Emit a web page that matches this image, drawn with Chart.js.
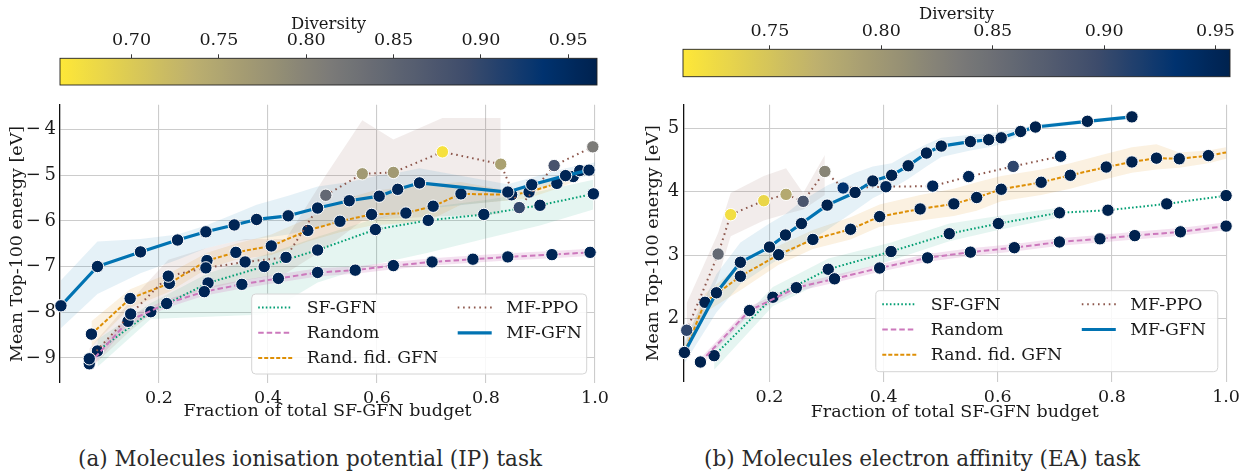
<!DOCTYPE html>
<html><head><meta charset="utf-8">
<script src="https://cdn.jsdelivr.net/npm/chart.js@4.4.1/dist/chart.umd.min.js"></script>
<style>
html,body{margin:0;padding:0;background:#fff;}
#wrap{position:relative;width:1245px;height:471px;overflow:hidden;background:#fff;}
canvas{position:absolute;}
.cap{position:absolute;top:447px;font-family:"DejaVu Serif",serif;font-size:21.5px;color:#2a2a2a;white-space:nowrap;transform:translateX(-50%);line-height:24px;}
</style></head><body>
<div id="wrap">
<canvas id="cbA" width="620" height="90" style="left:0;top:0"></canvas>
<canvas id="plA" width="620" height="350" style="left:0;top:90px"></canvas>
<canvas id="cbB" width="625" height="90" style="left:620px;top:0"></canvas>
<canvas id="plB" width="625" height="350" style="left:620px;top:90px"></canvas>
<div class="cap" style="left:310px">(a) Molecules ionisation potential (IP) task</div>
<div class="cap" style="left:922px">(b) Molecules electron affinity (EA) task</div>
</div>
<script>
// ---------------- DATA ----------------
const methods = ['SF-GFN', 'Random', 'Rand. fid. GFN', 'MF-PPO', 'MF-GFN'];
const xTickLabels = [0.2, 0.4, 0.6, 0.8, 1.0];
const ipYTicks = [-9, -8, -7, -6, -5, -4];
const eaYTicks = [2, 3, 4, 5];
const ipDivTicks = [0.70, 0.75, 0.80, 0.85, 0.90, 0.95];
const eaDivTicks = [0.75, 0.80, 0.85, 0.90, 0.95];
const ipDivRange = [0.659, 0.9665];
const eaDivRange = [0.711, 0.9565];
const navyDiv = 0.96;

// (a) IP task
const ipSfX  = [0.087, 0.185, 0.290, 0.393, 0.491, 0.597, 0.694, 0.796, 0.899, 0.997];
const ipSfY  = [-8.85, -7.99, -7.36, -7.00, -6.64, -6.19, -5.99, -5.86, -5.66, -5.41];
const ipSfLo = [-9.20, -8.15, -8.10, -8.05, -7.35, -6.95, -6.70, -6.40, -6.10, -5.75];
const ipSfHi = [-8.60, -7.80, -7.15, -6.75, -6.35, -5.95, -5.70, -5.55, -5.35, -5.10];

const ipRndX  = [0.072, 0.143, 0.214, 0.283, 0.352, 0.419, 0.491, 0.560, 0.630, 0.701, 0.776, 0.840, 0.921, 0.991];
const ipRndY  = [-9.13, -8.20, -7.81, -7.55, -7.39, -7.26, -7.13, -7.08, -6.98, -6.90, -6.84, -6.79, -6.74, -6.69];
const ipRndLo = [-9.25, -8.30, -7.90, -7.64, -7.48, -7.35, -7.22, -7.16, -7.06, -6.98, -6.92, -6.87, -6.82, -6.77];
const ipRndHi = [-9.00, -8.10, -7.72, -7.46, -7.30, -7.17, -7.04, -7.00, -6.90, -6.82, -6.76, -6.71, -6.66, -6.61];

const ipRfX  = [0.076, 0.147, 0.219, 0.288, 0.341, 0.406, 0.473, 0.532, 0.590, 0.653, 0.703, 0.754, 0.847, 0.879, 0.930, 0.960, 0.972];
const ipRfY  = [-8.48, -7.70, -7.37, -6.87, -6.69, -6.55, -6.21, -6.01, -5.86, -5.83, -5.68, -5.41, -5.43, -5.37, -5.18, -5.03, -4.90];
const ipRfLo = [-8.75, -7.90, -7.55, -7.05, -6.85, -6.75, -6.45, -6.25, -6.10, -6.05, -5.95, -5.65, -5.55, -5.50, -5.30, -5.15, -5.00];
const ipRfHi = [-8.20, -7.50, -7.15, -6.70, -6.50, -6.30, -5.95, -5.55, -5.35, -5.25, -5.20, -5.15, -5.35, -5.25, -5.05, -4.90, -4.80];

const ipPpoX   = [0.072, 0.148, 0.217, 0.286, 0.358, 0.433, 0.506, 0.573, 0.630, 0.720, 0.827, 0.861, 0.925, 0.996];
const ipPpoY   = [-9.02, -8.04, -7.21, -7.03, -6.90, -6.80, -5.44, -4.97, -4.94, -4.49, -4.76, -5.71, -4.79, -4.38];
const ipPpoDiv = [0.96, 0.96, 0.96, 0.96, 0.96, 0.96, 0.845, 0.767, 0.767, 0.668, 0.757, 0.899, 0.880, 0.813];
const ipPpoLo  = [-9.25, -8.40, -7.75, -7.50, -7.30, -7.15, -6.60, -6.00, -5.95, -5.90, -5.85];
const ipPpoHi  = [-8.80, -7.75, -6.85, -6.60, -6.40, -6.40, -5.00, -3.80, -4.22, -3.75, -3.75];

const ipMfX  = [0.020, 0.087, 0.166, 0.234, 0.286, 0.338, 0.379, 0.437, 0.491, 0.549, 0.604, 0.638, 0.678, 0.840, 0.884, 0.946, 0.989, 1.0];
const ipMfY  = [-7.86, -7.00, -6.68, -6.42, -6.24, -6.09, -5.97, -5.89, -5.72, -5.56, -5.46, -5.31, -5.17, -5.37, -5.21, -5.01, -4.89, -4.86];
const ipMfLo = [-8.35, -7.60, -7.15, -6.85, -6.60, -6.45, -6.40, -6.30, -6.15, -6.00, -5.95, -5.85, -5.75, -5.55, -5.35, -5.15, -5.00, -4.98];
const ipMfHi = [-7.30, -6.45, -6.40, -6.30, -6.10, -5.85, -5.65, -5.45, -5.25, -5.15, -5.00, -4.95, -4.85, -5.20, -5.05, -4.85, -4.75, -4.72];

// (b) EA task
const eaSfX  = [0.103, 0.206, 0.303, 0.413, 0.515, 0.601, 0.708, 0.793, 0.896, 1.0];
const eaSfY  = [1.42, 2.34, 2.78, 3.06, 3.34, 3.50, 3.67, 3.71, 3.81, 3.94];
const eaSfLo = [1.20, 2.20, 2.62, 2.92, 3.22, 3.40, 3.60];
const eaSfHi = [1.55, 2.50, 2.95, 3.20, 3.50, 3.62, 3.75];

const eaRndX  = [0.079, 0.165, 0.247, 0.314, 0.393, 0.477, 0.552, 0.629, 0.708, 0.779, 0.840, 0.920, 1.0];
const eaRndY  = [1.32, 2.13, 2.49, 2.63, 2.80, 2.96, 3.05, 3.12, 3.21, 3.26, 3.31, 3.37, 3.46];
const eaRndLo = [1.26, 2.07, 2.43, 2.57, 2.74, 2.90, 2.99, 3.06, 3.15, 3.20, 3.25, 3.31, 3.40];
const eaRndHi = [1.38, 2.19, 2.55, 2.69, 2.86, 3.02, 3.11, 3.18, 3.27, 3.32, 3.37, 3.43, 3.52];

const eaRfX  = [0.051, 0.087, 0.149, 0.216, 0.276, 0.342, 0.393, 0.464, 0.523, 0.563, 0.606, 0.676, 0.727, 0.790, 0.835, 0.878, 0.918, 0.969, 1.0];
const eaRfY  = [1.47, 2.26, 2.67, 3.01, 3.25, 3.41, 3.61, 3.73, 3.81, 3.91, 4.04, 4.15, 4.26, 4.39, 4.47, 4.53, 4.52, 4.57, 4.62];
const eaRfLo = [1.40, 2.10, 2.45, 2.85, 3.10, 3.25, 3.45, 3.55, 3.62, 3.70, 3.85, 3.95, 4.05, 4.20, 4.30, 4.35, 4.38, 4.45, 4.52];
const eaRfHi = [1.60, 2.40, 2.85, 3.15, 3.40, 3.60, 3.80, 3.95, 4.05, 4.15, 4.25, 4.35, 4.45, 4.60, 4.70, 4.75, 4.62, 4.65, 4.70];

const eaPpoX   = [0.055, 0.110, 0.132, 0.190, 0.229, 0.259, 0.297, 0.329, 0.404, 0.486, 0.549, 0.627, 0.710];
const eaPpoY   = [1.82, 3.02, 3.64, 3.86, 3.96, 3.85, 4.32, 4.06, 4.08, 4.09, 4.24, 4.40, 4.56];
const eaPpoDiv = [0.905, 0.858, 0.722, 0.730, 0.780, 0.885, 0.822, 0.932, 0.95, 0.95, 0.95, 0.905, 0.95];
const eaPpoLo  = [1.45, 2.65, 3.30, 3.55, 3.65, 3.72, 3.95];
const eaPpoHi  = [2.25, 3.35, 3.98, 4.25, 4.37, 3.98, 4.58];

const eaMfX  = [0.051, 0.107, 0.149, 0.200, 0.228, 0.256, 0.301, 0.350, 0.381, 0.414, 0.443, 0.475, 0.501, 0.552, 0.584, 0.606, 0.640, 0.666, 0.757, 0.835];
const eaMfY  = [1.47, 2.41, 2.89, 3.13, 3.32, 3.50, 3.79, 3.99, 4.17, 4.26, 4.41, 4.61, 4.72, 4.79, 4.82, 4.85, 4.95, 5.02, 5.11, 5.18];
const eaMfLo = [1.30, 2.10, 2.55, 2.85, 3.00, 3.15, 3.40, 3.70, 3.90, 4.05, 4.20, 4.40, 4.55, 4.65, 4.70, 4.75, 4.90, 4.98, 5.08, 5.15];
const eaMfHi = [1.65, 2.70, 3.20, 3.50, 3.65, 3.85, 4.10, 4.30, 4.40, 4.45, 4.60, 4.75, 4.85, 4.90, 4.92, 4.95, 5.00, 5.06, 5.14, 5.21];

// ---------------- STYLE ----------------
const FONT = '"DejaVu Serif", serif';
const TXT = '#1a1a1a';
const styles = {
  'SF-GFN':         {color: '#029E73', w: 2,   dash: [1.6, 2.2], band: 'rgba(2,158,115,0.10)'},
  'Random':         {color: '#CC78BC', w: 2,   dash: [5.5, 3],   band: 'rgba(204,120,188,0.22)'},
  'Rand. fid. GFN': {color: '#DE8F05', w: 2,   dash: [4, 2],     band: 'rgba(222,143,5,0.12)'},
  'MF-PPO':         {color: '#8C564B', w: 2,   dash: [1.6, 3.8], band: 'rgba(140,86,75,0.11)'},
  'MF-GFN':         {color: '#0173B2', w: 3.2, dash: [],         band: 'rgba(1,115,178,0.10)'}
};

const cividis = [[0, [0, 34, 78]], [0.1, [0, 50, 111]], [0.25, [64, 77, 107]], [0.5, [124, 123, 120]], [0.75, [188, 175, 111]], [1, [254, 232, 56]]];
function cmap(t) {
  t = Math.max(0, Math.min(1, t));
  for (let i = 1; i < cividis.length; i++) {
    if (t <= cividis[i][0]) {
      const [t0, c0] = cividis[i - 1], [t1, c1] = cividis[i];
      const f = (t - t0) / (t1 - t0);
      return 'rgb(' + c0.map((c, k) => Math.round(c + (c1[k] - c) * f)).join(',') + ')';
    }
  }
  return 'rgb(254,232,56)';
}
function divColor(d, r) { return cmap((r[1] - d) / (r[1] - r[0])); }

function pts(xs, ys) { return xs.map((x, i) => ({x: x, y: ys[i]})); }

function lineDs(name, xs, ys, divs, range, hideLast) {
  const st = styles[name];
  return {
    label: name, data: pts(xs, ys), borderColor: st.color, borderWidth: st.w, borderDash: st.dash,
    borderCapStyle: 'butt', borderJoinStyle: 'round', tension: 0, fill: false,
    pointRadius: xs.map((x, i) => (hideLast && i === xs.length - 1) ? 0 : 6.2),
    pointBackgroundColor: xs.map((x, i) => divColor(divs ? divs[i] : navyDiv, range)),
    pointBorderColor: '#ffffff', pointBorderWidth: 1, clip: 12
  };
}
function bandDs(name, xs, lo, hi) {
  const st = styles[name];
  const n = lo.length;
  return [
    {label: name + ' hi', data: pts(xs.slice(0, n), hi), borderWidth: 0, pointRadius: 0, fill: '+1', backgroundColor: st.band, tension: 0, clip: 0},
    {label: name + ' lo', data: pts(xs.slice(0, n), lo), borderWidth: 0, pointRadius: 0, fill: false, tension: 0, clip: 0}
  ];
}

const colorbarPlugin = {
  id: 'cbar',
  beforeDatasetsDraw(chart) {
    const {ctx, chartArea: a} = chart;
    const g = ctx.createLinearGradient(a.left, 0, a.right, 0);
    for (let i = 0; i <= 50; i++) { const f = i / 50; g.addColorStop(f, cmap(1 - f)); }
    ctx.save();
    ctx.fillStyle = g;
    ctx.fillRect(a.left, a.top, a.right - a.left, a.bottom - a.top);
    ctx.strokeStyle = '#222'; ctx.lineWidth = 0.9;
    ctx.strokeRect(a.left, a.top, a.right - a.left, a.bottom - a.top);
    ctx.restore();
  }
};

const legendPlugin = {
  id: 'mfLegend',
  afterDatasetsDraw(chart, args, o) {
    const {ctx, chartArea: a} = chart;
    const bx = a.right - o.dx - o.w, by = a.bottom - o.dy - o.h;
    ctx.save();
    const r = 4;
    ctx.beginPath();
    ctx.moveTo(bx + r, by); ctx.lineTo(bx + o.w - r, by); ctx.arcTo(bx + o.w, by, bx + o.w, by + r, r);
    ctx.lineTo(bx + o.w, by + o.h - r); ctx.arcTo(bx + o.w, by + o.h, bx + o.w - r, by + o.h, r);
    ctx.lineTo(bx + r, by + o.h); ctx.arcTo(bx, by + o.h, bx, by + o.h - r, r);
    ctx.lineTo(bx, by + r); ctx.arcTo(bx, by, bx + r, by, r); ctx.closePath();
    ctx.fillStyle = 'rgba(255,255,255,0.85)'; ctx.fill();
    ctx.strokeStyle = '#d4d4d4'; ctx.lineWidth = 1; ctx.stroke();
    const rows = [13.6, 38.8, 64];
    const cols = [6.5, 206];
    const place = [[0, 0], [0, 1], [0, 2], [1, 0], [1, 1]];
    ctx.font = '17.3px ' + FONT; ctx.textBaseline = 'middle'; ctx.textAlign = 'left'; ctx.fillStyle = TXT;
    methods.forEach((m, i) => {
      const st = styles[m];
      const x0 = bx + cols[place[i][0]], y = by + rows[place[i][1]];
      ctx.beginPath(); ctx.setLineDash(st.dash); ctx.lineCap = 'butt';
      ctx.strokeStyle = st.color; ctx.lineWidth = st.w;
      ctx.moveTo(x0, y); ctx.lineTo(x0 + 34, y); ctx.stroke();
      ctx.setLineDash([]);
      ctx.fillText(m, x0 + 48.5, y + 1);
    });
    ctx.restore();
  }
};

function makeColorbar(id, range, ticks, pad, axH, titlePad) {
  return new Chart(document.getElementById(id), {
    type: 'scatter', data: {datasets: []},
    options: {
      responsive: false, animation: false, devicePixelRatio: 1, events: [],
      layout: {padding: pad},
      plugins: {legend: {display: false}, tooltip: {enabled: false}},
      scales: {
        x: {type: 'linear', position: 'top', min: range[0], max: range[1],
            afterBuildTicks: s => { s.ticks = ticks.map(v => ({value: v})); },
            afterFit: s => { s.height = axH; },
            grid: {drawOnChartArea: false, drawTicks: true, tickLength: 4, color: '#222', lineWidth: 0.9},
            border: {display: false},
            ticks: {padding: 3, color: TXT, font: {family: FONT, size: 17.5}, callback: v => v.toFixed(2), maxRotation: 0, autoSkip: false},
            title: {display: true, text: 'Diversity', color: TXT, font: {family: FONT, size: 16.5}, padding: {top: titlePad, bottom: 0}}},
        y: {display: false, min: 0, max: 1}
      }
    },
    plugins: [colorbarPlugin]
  });
}

function makePlot(id, cfg) {
  const datasets = [
    lineDs('MF-GFN', cfg.mf[0], cfg.mf[1], null, cfg.range, cfg.mfHideLast),
    lineDs('MF-PPO', cfg.ppo[0], cfg.ppo[1], cfg.ppo[2], cfg.range, false),
    lineDs('Rand. fid. GFN', cfg.rf[0], cfg.rf[1], null, cfg.range, cfg.rfHideLast),
    lineDs('Random', cfg.rnd[0], cfg.rnd[1], null, cfg.range, false),
    lineDs('SF-GFN', cfg.sf[0], cfg.sf[1], null, cfg.range, false),
    ...bandDs('MF-GFN', cfg.mf[0], cfg.mf[2], cfg.mf[3]),
    ...bandDs('MF-PPO', cfg.ppo[0], cfg.ppo[3], cfg.ppo[4]),
    ...bandDs('Rand. fid. GFN', cfg.rf[0], cfg.rf[2], cfg.rf[3]),
    ...bandDs('Random', cfg.rnd[0], cfg.rnd[2], cfg.rnd[3]),
    ...bandDs('SF-GFN', cfg.sf[0], cfg.sf[2], cfg.sf[3])
  ];
  return new Chart(document.getElementById(id), {
    type: 'line', data: {datasets: datasets},
    options: {
      responsive: false, animation: false, devicePixelRatio: 1, events: [],
      layout: {padding: cfg.pad},
      plugins: {legend: {display: false}, tooltip: {enabled: false}, filler: {drawTime: 'beforeDatasetsDraw', propagate: false},
                mfLegend: cfg.legend},
      scales: {
        x: {type: 'linear', min: cfg.xmin, max: 1.0,
            afterBuildTicks: s => { s.ticks = xTickLabels.map(v => ({value: v})); },
            afterFit: s => { s.height = cfg.xH; },
            grid: {color: '#cccccc', lineWidth: 1.1, drawTicks: false},
            border: {display: false},
            ticks: {padding: 5, color: TXT, font: {family: FONT, size: 17.5}, callback: v => v.toFixed(1), maxRotation: 0, autoSkip: false},
            title: {display: true, text: 'Fraction of total SF-GFN budget', color: TXT, font: {family: FONT, size: 17.5}, padding: {top: 0, bottom: cfg.xTitlePad}}},
        y: {type: 'linear', min: cfg.ymin, max: cfg.ymax,
            afterBuildTicks: s => { s.ticks = cfg.yTicks.map(v => ({value: v})); },
            afterFit: s => { s.width = cfg.yW; },
            grid: {color: '#cccccc', lineWidth: 1.1, drawTicks: false},
            border: {display: true, color: '#111', width: 1.3},
            ticks: {padding: 4, color: TXT, font: {family: FONT, size: 18}, callback: v => (v < 0 ? '\u2212\u2009' : '') + Math.abs(v), autoSkip: false},
            title: {display: true, text: 'Mean Top-100 energy [eV]', color: TXT, font: {family: FONT, size: 17.5}, padding: {top: cfg.yTitlePad, bottom: 0}}}
      }
    },
    plugins: [legendPlugin]
  });
}

makeColorbar('cbA', ipDivRange, ipDivTicks, {left: 60, right: 23, top: 0, bottom: 5}, 58.3, 15.2);
makeColorbar('cbB', eaDivRange, eaDivTicks, {left: 63, right: 15, top: 0, bottom: 13.3}, 49.3, 5.2);

makePlot('plA', {
  sf: [ipSfX, ipSfY, ipSfLo, ipSfHi],
  rnd: [ipRndX, ipRndY, ipRndLo, ipRndHi],
  rf: [ipRfX, ipRfY, ipRfLo, ipRfHi],
  ppo: [ipPpoX, ipPpoY, ipPpoDiv, ipPpoLo, ipPpoHi],
  mf: [ipMfX, ipMfY, ipMfLo, ipMfHi],
  mfHideLast: true, rfHideLast: false,
  range: ipDivRange, xmin: 0.0183, ymin: -9.55, ymax: -3.46, yTicks: ipYTicks,
  pad: {left: 0, right: 25, top: 11.7, bottom: 0}, yW: 60, xH: 57, xTitlePad: 18.5, yTitlePad: 6.5,
  legend: {dx: 8.3, dy: 9, w: 335, h: 80}
});
makePlot('plB', {
  sf: [eaSfX, eaSfY, eaSfLo, eaSfHi],
  rnd: [eaRndX, eaRndY, eaRndLo, eaRndHi],
  rf: [eaRfX, eaRfY, eaRfLo, eaRfHi],
  ppo: [eaPpoX, eaPpoY, eaPpoDiv, eaPpoLo, eaPpoHi],
  mf: [eaMfX, eaMfY, eaMfLo, eaMfHi],
  mfHideLast: false, rfHideLast: true,
  range: eaDivRange, xmin: 0.049, ymin: 1.01, ymax: 5.37, yTicks: eaYTicks,
  pad: {left: 0, right: 15, top: 5, bottom: 0}, yW: 63.3, xH: 58.3, xTitlePad: 17.5, yTitlePad: 22.5,
  legend: {dx: 8.3, dy: 10, w: 342, h: 81}
});
</script>
</body></html>
